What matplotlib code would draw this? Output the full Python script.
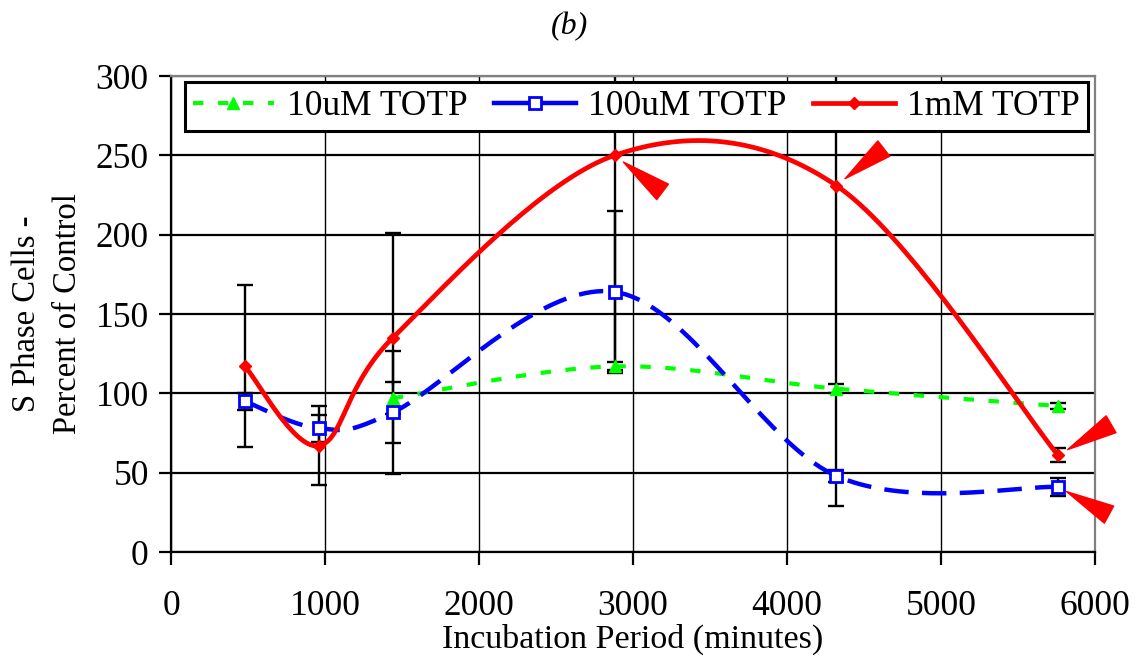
import numpy as np
import matplotlib
matplotlib.use("Agg")
import matplotlib.pyplot as plt
from matplotlib.lines import Line2D

plt.rcParams['font.family'] = ['Liberation Serif', 'DejaVu Serif']

# Incubation times (minutes)
tiempos = [480, 960, 1440, 2880, 4320, 5760]
tiempos_10um = [1440, 2880, 4320, 5760]

# S phase cells, percent of control
s_10um = [97, 117, 103, 92]
err_10um = [10, 3, 3, 2]
s_100um = [95, 78, 88, 164, 48, 41]
err_100um = [5.5, 8.5, 39, 51, 4, 5.5]
s_1mm = [117, 67, 135, 250, 231, 61]
err_1mm = [51, 25, 66, 135, 202, 4.5]

# Points flagged with a marker arrow: (series, index, offset in points, gap)
flechas = [('1mM', 3, (34.6, -26.3), 8),
           ('1mM', 4, (34.2, 26.6), 8),
           ('1mM', 5, (38.2, 22.3), 8),
           ('100uM', 5, (36.7, -19.9), 7)]


def suavizar(x, y, n=40):
    """Curva suave tipo Catmull-Rom que pasa por los puntos."""
    p = np.column_stack([x, y]).astype(float)
    p = np.vstack([p[0], p, p[-1]])
    xs, ys = [], []
    t = np.linspace(0, 1, n)
    for i in range(1, len(p) - 2):
        p0, p1, p2, p3 = p[i - 1], p[i], p[i + 1], p[i + 2]
        c1 = p1 + (p2 - p0) / 6
        c2 = p2 - (p3 - p1) / 6
        b = ((1 - t) ** 3)[:, None] * p1 + (3 * (1 - t) ** 2 * t)[:, None] * c1 \
            + (3 * (1 - t) * t ** 2)[:, None] * c2 + (t ** 3)[:, None] * p2
        xs.extend(b[:, 0])
        ys.extend(b[:, 1])
    return np.array(xs), np.array(ys)


fig = plt.figure(figsize=(11.38, 6.6), dpi=100)
ax = fig.add_axes([0.1503, 0.1636, 0.8119, 0.7212])

# barras de error
kw_err = dict(fmt='none', ecolor='black', elinewidth=1.7, capsize=6,
              capthick=1.7, zorder=2)
ax.errorbar(tiempos, s_1mm, yerr=err_1mm, **kw_err)
ax.errorbar(tiempos, s_100um, yerr=err_100um, **kw_err)
eb = ax.errorbar(tiempos_10um, s_10um, yerr=err_10um, **kw_err)
eb[2][0].set_linestyle((0, (3, 3)))

# curvas suavizadas
xg, yg = suavizar(tiempos_10um, s_10um)
ax.plot(xg, yg, color='#00ff00', lw=3, dashes=(2.5, 3.5), zorder=3)
ax.plot(tiempos_10um, s_10um, ls='none', marker='^', ms=9, color='#00ff00', zorder=4)

xb, yb = suavizar(tiempos, s_100um)
ax.plot(xb, yb, color='#0000ff', lw=3.2, dashes=(5.5, 3), zorder=3)
ax.plot(tiempos, s_100um, ls='none', marker='s', ms=8.5, mfc='white', mec='#0000ff',
        mew=2, zorder=4)

xr, yr = suavizar(tiempos, s_1mm)
ax.plot(xr, yr, color='#ff0000', lw=3.4, zorder=3)
ax.plot(tiempos, s_1mm, ls='none', marker='D', ms=6.5, color='#ff0000', zorder=4)

# flechas rojas
series = {'1mM': s_1mm, '100uM': s_100um}
for nombre, i, off, gap in flechas:
    ax.annotate('', xy=(tiempos[i], series[nombre][i]), xytext=off,
                textcoords='offset points',
                arrowprops=dict(arrowstyle='wedge,tail_width=1.4,shrink_factor=0.5',
                                color='#ff0000', shrinkA=0, shrinkB=gap),
                zorder=6)

ax.set_xlim(0, 6000)
ax.set_ylim(0, 300)
ax.set_xticks(np.arange(0, 6001, 1000))
ax.set_yticks(np.arange(0, 301, 50))
ax.tick_params(labelsize=25.5, length=9, width=1.6, color='black')
ax.tick_params(axis='x', pad=18)
ax.tick_params(axis='y', pad=7)
ax.xaxis.grid(True, color='black', lw=1.0)
ax.yaxis.grid(True, color='black', lw=1.6)
ax.set_axisbelow(True)
for lado in ['left', 'bottom']:
    ax.spines[lado].set_linewidth(1.6)
for lado in ['top', 'right']:
    ax.spines[lado].set_color('#808080')
    ax.spines[lado].set_linewidth(1.6)

ax.set_xlabel('Incubation Period (minutes)', fontsize=24.5, labelpad=1)
ax.set_ylabel('S Phase Cells -\nPercent of Control', fontsize=23.5, labelpad=9,
              linespacing=1.45)
fig.text(0.5, 0.96, '(b)', fontsize=23, style='italic', ha='center', va='center')

# leyenda
handles = [
    Line2D([], [], color='#00ff00', lw=3, dashes=(2.5, 3.5), marker='^', ms=9),
    Line2D([], [], color='#0000ff', lw=3.2, marker='s', ms=8.5, mfc='white',
           mec='#0000ff', mew=2),
    Line2D([], [], color='#ff0000', lw=3.4, marker='D', ms=6.5),
]
leg = ax.legend(handles, ['10uM TOTP', '100uM TOTP', '1mM TOTP'], ncol=3,
                loc='center', bbox_to_anchor=(0.015, 0.936, 0.977, 0.0),
                bbox_transform=ax.transAxes, mode='expand', fontsize=25.5,
                frameon=True, fancybox=False, edgecolor='black', framealpha=1,
                handlelength=2.3, handletextpad=0.35, borderpad=0.22,
                borderaxespad=0, columnspacing=1.0)
leg.get_frame().set_linewidth(2.2)
leg.set_zorder(7)

fig.savefig('out.png', dpi=100)
